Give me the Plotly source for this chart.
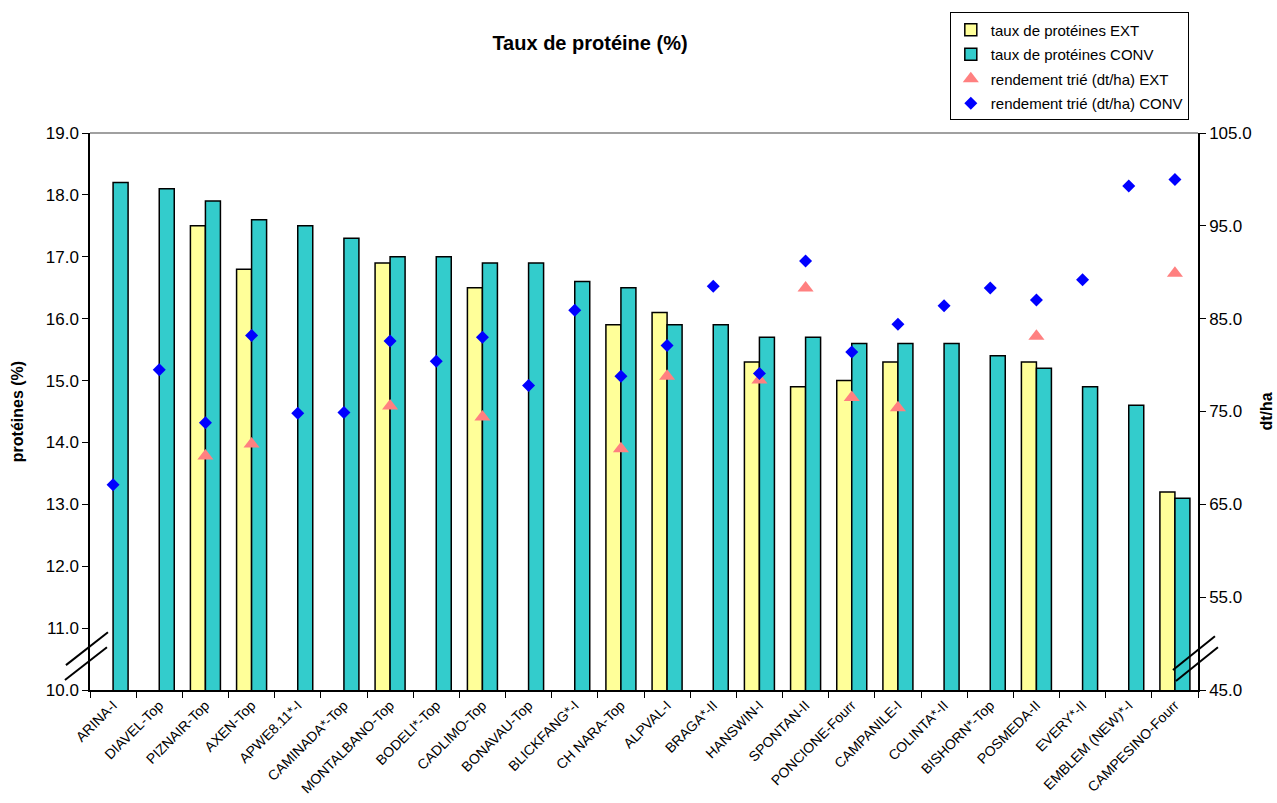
import plotly.graph_objects as go

categories = ["ARINA-I", "DIAVEL-Top", "PIZNAIR-Top", "AXEN-Top", "APWE8.11*-I", "CAMINADA*-Top",
              "MONTALBANO-Top", "BODELI*-Top", "CADLIMO-Top", "BONAVAU-Top", "BLICKFANG*-I",
              "CH NARA-Top", "ALPVAL-I", "BRAGA*-II", "HANSWIN-I", "SPONTAN-II", "PONCIONE-Fourr",
              "CAMPANILE-I", "COLINTA*-II", "BISHORN*-Top", "POSMEDA-II", "EVERY*-II",
              "EMBLEM (NEW)*-I", "CAMPESINO-Fourr"]

prot_ext = [None, None, 17.5, 16.8, None, None, 16.9, None, 16.5, None, None, 15.9, 16.1, None,
            15.3, 14.9, 15.0, 15.3, None, None, 15.3, None, None, 13.2]
prot_conv = [18.2, 18.1, 17.9, 17.6, 17.5, 17.3, 17.0, 17.0, 16.9, 16.9, 16.6, 16.5, 15.9, 15.9,
             15.7, 15.7, 15.6, 15.6, 15.6, 15.4, 15.2, 14.9, 14.6, 13.1]
rend_ext = [None, None, 70.2, 71.5, None, None, 75.6, None, 74.4, None, None, 71.0, 78.8, None,
            78.4, 88.3, 76.5, 75.4, None, None, 83.1, None, None, 89.9]
rend_conv = [67.1, 79.5, 73.8, 83.2, 74.8, 74.9, 82.6, 80.4, 83.0, 77.8, 85.9, 78.8, 82.1, 88.5,
             79.1, 91.2, 81.4, 84.4, 86.4, 88.3, 87.0, 89.2, 99.3, 100.0]

FONT = "Liberation Sans, Arial, sans-serif"

fig = go.Figure()
fig.add_trace(go.Bar(x=categories, y=prot_ext, name="taux de protéines EXT",
                     marker=dict(color="#FFFF99", line=dict(color="black", width=1.5)),
                     legendgroup="a"))
fig.add_trace(go.Bar(x=categories, y=prot_conv, name="taux de protéines CONV",
                     marker=dict(color="#33CCCC", line=dict(color="black", width=1.5)),
                     legendgroup="b"))
fig.add_trace(go.Scatter(x=categories, y=rend_ext, name="rendement trié (dt/ha) EXT",
                         mode="markers", yaxis="y2",
                         marker=dict(symbol="triangle-up", size=14, color="#FF8080"),
                         legendgroup="c"))
fig.add_trace(go.Scatter(x=categories, y=rend_conv, name="rendement trié (dt/ha) CONV",
                         mode="markers", yaxis="y2",
                         marker=dict(symbol="diamond", size=10, color="#0000FF"),
                         legendgroup="d"))

shapes = [
    dict(type="line", xref="paper", yref="paper", x0=0, x1=1, y0=1, y1=1,
         line=dict(color="#808080", width=1.5)),
    dict(type="line", xref="paper", yref="paper", x0=-0.0217, y0=0.0447, x1=0.0162, y1=0.1038,
         line=dict(color="black", width=2)),
    dict(type="line", xref="paper", yref="paper", x0=-0.0226, y0=0.0179, x1=0.0153, y1=0.0769,
         line=dict(color="black", width=2)),
    dict(type="line", xref="paper", yref="paper", x0=0.9774, y0=0.0358, x1=1.0153, y1=0.0966,
         line=dict(color="black", width=2)),
    dict(type="line", xref="paper", yref="paper", x0=0.9801, y0=0.0161, x1=1.018, y1=0.0769,
         line=dict(color="black", width=2)),
]

fig.update_layout(
    width=1277, height=803,
    margin=dict(l=90, r=79, t=131, b=113),
    paper_bgcolor="white", plot_bgcolor="white",
    font=dict(family=FONT, size=14, color="black"),
    barmode="group", bargap=0.35, bargroupgap=0,
    title=dict(text="<b>Taux de protéine (%)</b>", x=590 / 1277, xanchor="center",
               y=1 - 43 / 803, yanchor="middle", font=dict(size=20)),
    xaxis=dict(range=[-0.5, len(categories) - 0.5], showline=True, linecolor="black",
               linewidth=1.5, ticks="outside", tickson="boundaries", ticklen=6,
               tickcolor="black", tickangle=-45, tickfont=dict(size=14), showgrid=False,
               automargin=False),
    yaxis=dict(range=[10, 19], dtick=1, tick0=10, tickformat=".1f", showline=True,
               linecolor="black", linewidth=1.5, ticks="outside", ticklen=6, tickcolor="black",
               showgrid=False, zeroline=False, tickfont=dict(size=17), automargin=False,
               title=dict(text="<b>protéines (%)</b>", font=dict(size=16), standoff=18)),
    yaxis2=dict(range=[45, 105], dtick=10, tick0=45, tickformat=".1f", overlaying="y",
                side="right", showline=True, linecolor="black", linewidth=1.5, ticks="outside",
                ticklen=6, tickcolor="black", showgrid=False, zeroline=False,
                tickfont=dict(size=17), automargin=False,
                title=dict(text="<b>dt/ha</b>", font=dict(size=16), standoff=10)),
    legend=dict(x=0.776, y=1.2165, xanchor="left", yanchor="top", bordercolor="black",
                borderwidth=1, bgcolor="white", font=dict(size=15), tracegroupgap=2,
                itemwidth=30),
    shapes=shapes,
    showlegend=True,
)

fig.write_html("out.html", config={"displayModeBar": False},
               post_script="document.body.style.margin='0';")
